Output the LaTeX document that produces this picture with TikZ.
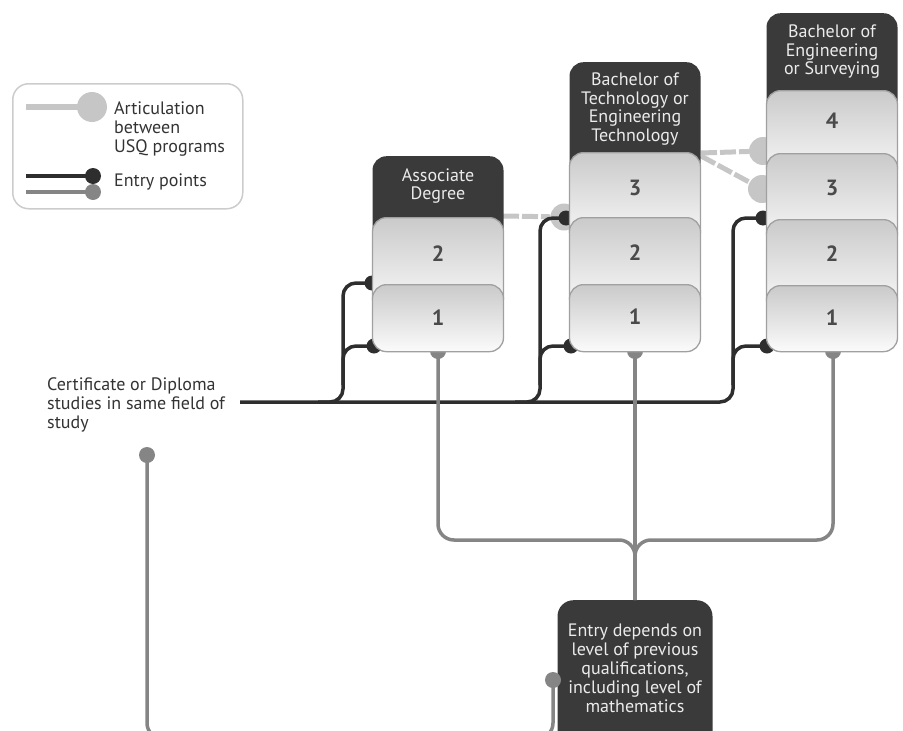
\documentclass[tikz,border=0pt]{standalone}
\usepackage{fontspec}
\setmainfont{PT Sans}
\usetikzlibrary{calc}
\definecolor{headfill}{HTML}{3A3A3A}
\definecolor{cellborder}{HTML}{A0A0A0}
\definecolor{celltop}{HTML}{CACACA}
\definecolor{cellbot}{HTML}{FBFBFB}
\definecolor{darkline}{HTML}{2E2E2E}
\definecolor{grayline}{HTML}{858585}
\definecolor{artic}{HTML}{C6C6C6}
\definecolor{textcol}{HTML}{333333}
\definecolor{numcol}{HTML}{4A4A4A}
\definecolor{legborder}{HTML}{CCCCCC}
\begin{document}
\begin{tikzpicture}[x=1pt,y=-1pt,
  txt/.style={font=\fontsize{18}{19}\selectfont, text=textcol, inner sep=0pt, align=left},
  headtxt/.style={font=\fontsize{18}{18.5}\selectfont, text=white!92!black, inner sep=0pt, align=center},
  cell/.style={draw=cellborder, line width=1.3pt, rounded corners=14pt, top color=celltop, bottom color=cellbot, minimum width=131pt, anchor=north, inner sep=0pt},
  headbox/.style={fill=headfill, rounded corners=14pt, minimum width=131pt, anchor=north, inner sep=0pt},
  num/.style={font=\fontsize{22}{22}\selectfont\bfseries, text=numcol, inner sep=0pt},
  darkln/.style={draw=darkline, line width=3.5pt, rounded corners=13pt},
  grayln/.style={draw=grayline, line width=3.5pt, rounded corners=16pt},
  articln/.style={draw=artic, line width=5pt, dash pattern=on 16pt off 3pt},
  dotdark/.style={circle, fill=darkline, minimum size=15pt, inner sep=0pt},
  dotgray/.style={circle, fill=grayline, minimum size=16pt, inner sep=0pt},
  dotartic/.style={circle, fill=artic, minimum size=27pt, inner sep=0pt}]
\useasboundingbox (0,0) rectangle (903,731);
\clip (0,0) rectangle (903,731);

% ---------- legend ----------
\node[draw=legborder, line width=1.5pt, rounded corners=16pt, minimum width=230pt, minimum height=125pt, anchor=north west, inner sep=0pt] (legend) at (12,83) {};
\node[dotartic, minimum size=30pt] (legA) at (92,107) {};
\coordinate (legA0) at (26,107);
\draw[draw=artic, line width=6pt] (legA0) -- (legA.center);
\node[dotgray] (legG) at (93,192) {};
\coordinate (legG0) at (26,192);
\draw[draw=grayline, line width=3.5pt] (legG0) -- (legG.center);
\node[dotdark, minimum size=16pt] (legD) at (93,176) {};
\coordinate (legD0) at (26,176);
\draw[draw=darkline, line width=3.5pt] (legD0) -- (legD.center);
\node[txt, anchor=west] (legT1) at (114,129) {Articulation\\between\\USQ programs};
\node[txt, anchor=west] (legT2) at (114,182) {Entry points};

% ---------- certificate text ----------
\node[txt, anchor=west] (cert) at (47,405) {Certificate or Diploma\\studies in same field of\\study};
\coordinate (trunk0) at (240,402);

% ---------- articulation ----------
\node[dotartic] (artB) at (564,217) {};
\node[dotartic, minimum size=28pt] (artC1) at (763,151) {};
\node[dotartic, minimum size=28pt] (artC2) at (762,189) {};
\coordinate (aA) at (503,216);
\coordinate (aB1) at (701,153);
\coordinate (aB2) at (701,156);
\draw[articln] (aA) -- (artB);
\draw[articln] (aB1) -- (artC1);
\draw[articln] (aB2) -- (artC2);

% ---------- entry (dark) connectors ----------
\node[dotdark] (dA2) at (372,283) {};
\node[dotdark] (dA1) at (374,346) {};
\node[dotdark] (dB2) at (566,218) {};
\node[dotdark] (dB1) at (571,346) {};
\node[dotdark] (dC2) at (763,218) {};
\node[dotdark] (dC1) at (767,346) {};
\draw[darkln] (trunk0) -- (733,402) -- (733,218) -- (dC2.center);
\draw[darkln] (318,402) -- (343,402) -- (343,283) -- (dA2.center);
\draw[darkln] (343,385) -- (343,346) -- (dA1.center);
\draw[darkln] (515,402) -- (540,402) -- (540,218) -- (dB2.center);
\draw[darkln] (540,385) -- (540,346) -- (dB1.center);
\draw[darkln] (733,385) -- (733,346) -- (dC1.center);

% ---------- gray connectors ----------
\node[dotgray] (gA) at (438,351) {};
\node[dotgray] (gB) at (635,351) {};
\node[dotgray] (gC) at (833,351) {};
\node[fill=headfill, rounded corners=16pt, minimum width=155pt, minimum height=170pt, anchor=north, inner sep=0pt] (entry) at (635,600) {};
\draw[grayln] (gA.center) -- (438,540) -- (635,540) -- (entry.north);
\draw[grayln] (gC.center) -- (833,540) -- (635,540) -- (entry.north);
\draw[grayln] (gB.center) -- (entry.north);
\node[headtxt, font=\fontsize{18}{19}\selectfont] (entrytxt) at (635,668) {Entry depends on\\level of previous\\qualifications,\\including level of\\mathematics};

\node[dotgray] (gL) at (147,455) {};
\node[dotgray] (gE) at (553,680) {};
\draw[grayln] (gL.center) -- (147,739) -- (553,739) -- (gE.center);

% ---------- column A: Associate Degree ----------
\node[headbox, minimum height=91pt] (Ahead) at (438,156) {};
\node[cell, minimum height=95pt] (A2) at (438,217) {};
\node[cell, minimum height=67pt] (A1) at (438,284) {};
\node[headtxt] (Atitle) at (438,186) {Associate\\Degree};
\node[num] (nA2) at (438,254) {2};
\node[num] (nA1) at (438,318) {1};

% ---------- column B: Bachelor of Technology ----------
\node[headbox, minimum height=120pt] (Bhead) at (635,62) {};
\node[cell, minimum height=93pt] (B3) at (635,152) {};
\node[cell, minimum height=95pt] (B2) at (635,217) {};
\node[cell, minimum height=67pt] (B1) at (635,284) {};
\node[headtxt] (Btitle) at (635,109) {Bachelor of\\Technology or\\Engineering\\Technology};
\node[num] (nB3) at (635,188) {3};
\node[num] (nB2) at (635,253) {2};
\node[num] (nB1) at (635,317) {1};

% ---------- column C: Bachelor of Engineering ----------
\node[headbox, minimum height=107pt] (Chead) at (832,13) {};
\node[cell, minimum height=91pt] (C4) at (832,90) {};
\node[cell, minimum height=94pt] (C3) at (832,153) {};
\node[cell, minimum height=94pt] (C2) at (832,219) {};
\node[cell, minimum height=66pt] (C1) at (832,285) {};
\node[headtxt] (Ctitle) at (832,52) {Bachelor of\\Engineering\\or Surveying};
\node[num] (nC4) at (832,121) {4};
\node[num] (nC3) at (832,188) {3};
\node[num] (nC2) at (832,254) {2};
\node[num] (nC1) at (832,318) {1};
\end{tikzpicture}
\end{document}
